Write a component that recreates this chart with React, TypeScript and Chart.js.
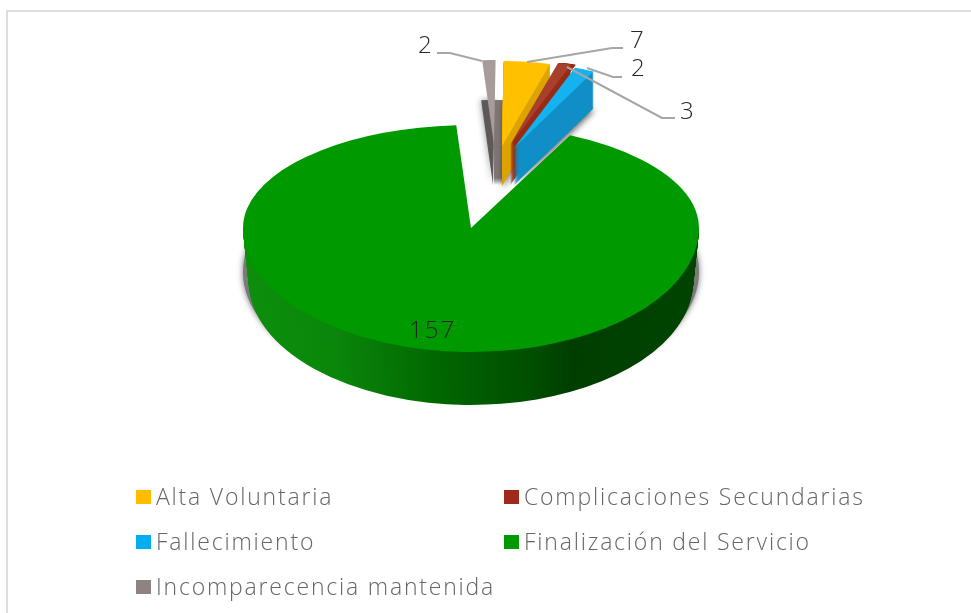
import React, { useEffect, useRef } from "react";
import { Chart, registerables } from "chart.js";

Chart.register(...registerables);

const categories = [
  "Alta Voluntaria",
  "Complicaciones Secundarias",
  "Fallecimiento",
  "Finalización del Servicio",
  "Incomparecencia mantenida",
];
const seriesValues = [7, 2, 3, 157, 2];
const faceColors = ["#FFC000", "#A8402E", "#14B2EE", "#009900", "#A89C9A"];
const wallColors = ["#DDA400", "#9A2A14", "#108FC6", "#006000", "#7F7676"];
const swatchColors = ["#FFBC00", "#A02A1A", "#00AEEF", "#009900", "#8F8280"];

const LEGEND_FONT = '300 23px "Open Sans", Inter, sans-serif';
const VALUE_FONT = '300 24px "Open Sans", Inter, sans-serif';
const BASE_RADIUS = 228;

// geometry of the tilted drawing
const mainPie = { x: 471, y: 228, backRy: 103, frontRy: 124, depth: 53 };
const smallPieces: Record<number, { x: number; y: number; depth: number; spread: number }> = {
  4: { x: 494, y: 145, depth: 40, spread: 0 },
  0: { x: 502, y: 146, depth: 40, spread: 0 },
  1: { x: 510, y: 145, depth: 40, spread: 5 },
  2: { x: 514, y: 148, depth: 37, spread: 0 },
};
const smallOrder = [4, 0, 1, 2];
const smallRx = 183;
const smallRy = 85;

const valueLabels = [
  { index: 0, x: 630, y: 48, line: [[623, 48], [612, 48], [527, 62]] },
  { index: 1, x: 631, y: 76, line: [[622, 77], [613, 77], [587, 68]] },
  { index: 2, x: 680, y: 119, line: [[675, 118], [662, 118], [567, 67]] },
  { index: 3, x: 409, y: 338, line: [] as number[][] },
  { index: 4, x: 418, y: 53, line: [[437, 53], [450, 53], [482, 61]] },
];

const legendColumns = [136, 504];
const legendRows = [490, 535, 580];

function drawArc(ctx: CanvasRenderingContext2D, el: any, color: any) {
  const saved = el.options;
  el.options = { ...saved, backgroundColor: color, borderWidth: 0 };
  el.draw(ctx);
  el.options = saved;
}

const pie3d = {
  id: "pie3d",
  beforeDatasetsDraw(chart: any) {
    const ctx: CanvasRenderingContext2D = chart.ctx;
    const arcs = chart.getDatasetMeta(0).data;
    const W = chart.width;
    const H = chart.height;

    const place = (el: any, x: number, y: number, sx: number, sy: number) => {
      ctx.translate(x, y);
      ctx.scale(sx, sy);
      ctx.translate(-el.x, -el.y);
    };

    // small exploded slices, behind the main one
    smallOrder.forEach((i) => {
      const el = arcs[i];
      const p = smallPieces[i];
      const sx = smallRx / BASE_RADIUS;
      const sy = smallRy / BASE_RADIUS;
      if (i === 4) {
        ctx.save();
        ctx.shadowColor = "rgba(0,0,0,0.45)";
        ctx.shadowBlur = 7;
        place(el, p.x - 1, p.y + p.depth, sx, sy);
        drawArc(ctx, el, "#5E5858");
        ctx.restore();
        ctx.save();
        ctx.beginPath();
        ctx.rect(494, 0, 40, H);
        ctx.clip();
        for (let dx = 0; dx <= 8; dx += 1) {
          ctx.save();
          place(el, p.x + dx, p.y + p.depth, sx, sy);
          drawArc(ctx, el, wallColors[i]);
          ctx.restore();
        }
        ctx.restore();
      } else {
        ctx.save();
        ctx.shadowColor = "rgba(0,0,0,0.6)";
        ctx.shadowBlur = 6;
        ctx.shadowOffsetX = 1;
        ctx.shadowOffsetY = 2;
        place(el, p.x, p.y + p.depth, sx, sy);
        drawArc(ctx, el, wallColors[i]);
        ctx.restore();
        for (let d = p.depth - 1; d >= 1; d -= 1) {
          ctx.save();
          place(el, p.x, p.y + d, sx, sy);
          drawArc(ctx, el, wallColors[i]);
          ctx.restore();
        }
        for (let dx = p.spread; dx >= 1; dx -= 1) {
          ctx.save();
          place(el, p.x + dx, p.y, sx, sy);
          drawArc(ctx, el, wallColors[i]);
          ctx.restore();
        }
      }
      ctx.save();
      place(el, p.x, p.y, sx, sy);
      drawArc(ctx, el, el.options.backgroundColor);
      ctx.restore();
    });

    // main slice: shadow, wall, then tilted face
    const main = arcs[3];
    const { x, y, backRy, frontRy, depth } = mainPie;
    const fy = frontRy / BASE_RADIUS;
    const by = backRy / BASE_RADIUS;

    ctx.save();
    ctx.shadowColor = "rgba(0,0,0,0.55)";
    ctx.shadowBlur = 6;
    place(main, x, y + 44, 1.0, fy);
    drawArc(ctx, main, "#7A7A7A");
    ctx.restore();

    const localLeft = main.x - BASE_RADIUS;
    const grad = ctx.createLinearGradient(localLeft, 0, localLeft + BASE_RADIUS * 2, 0);
    grad.addColorStop(0, "#0C8F0C");
    grad.addColorStop(0.2, "#0A860A");
    grad.addColorStop(0.45, "#006400");
    grad.addColorStop(0.65, "#004C00");
    grad.addColorStop(0.72, "#003E00");
    grad.addColorStop(1, "#004400");

    for (let d = depth; d >= 1; d -= 1) {
      ctx.save();
      ctx.beginPath();
      ctx.rect(0, y + d, W, H);
      ctx.clip();
      place(main, x, y + d, 1 - 0.025 * (d / depth), fy);
      drawArc(ctx, main, grad);
      ctx.restore();
    }

    ctx.save();
    ctx.beginPath();
    ctx.rect(0, 0, W, y + 0.5);
    ctx.clip();
    place(main, x, y, 1, by);
    drawArc(ctx, main, main.options.backgroundColor);
    ctx.restore();

    ctx.save();
    ctx.beginPath();
    ctx.rect(0, y, W, H);
    ctx.clip();
    place(main, x, y, 1, fy);
    drawArc(ctx, main, main.options.backgroundColor);
    ctx.restore();

    return false;
  },
  afterDraw(chart: any) {
    const ctx: CanvasRenderingContext2D = chart.ctx;
    const data = chart.data.datasets[0].data;
    const labels = chart.data.labels;

    // frame
    ctx.save();
    ctx.strokeStyle = "#DEDEDE";
    ctx.lineWidth = 2;
    ctx.beginPath();
    ctx.moveTo(7, chart.height);
    ctx.lineTo(7, 11);
    ctx.lineTo(chart.width, 11);
    ctx.stroke();
    ctx.restore();

    // leader lines and value labels
    ctx.save();
    ctx.font = VALUE_FONT;
    (ctx as any).letterSpacing = "2px";
    ctx.textAlign = "left";
    ctx.textBaseline = "alphabetic";
    valueLabels.forEach((v) => {
      if (v.line.length) {
        ctx.strokeStyle = "#A6A6A6";
        ctx.lineWidth = 2;
        ctx.beginPath();
        v.line.forEach((pt, k) => (k ? ctx.lineTo(pt[0], pt[1]) : ctx.moveTo(pt[0], pt[1])));
        ctx.stroke();
      }
      ctx.fillStyle = "#262626";
      ctx.fillText(String(data[v.index]), v.x, v.y);
    });
    ctx.restore();

    // legend
    ctx.save();
    ctx.font = LEGEND_FONT;
    (ctx as any).letterSpacing = "1.8px";
    ctx.textAlign = "left";
    ctx.textBaseline = "alphabetic";
    labels.forEach((label: string, i: number) => {
      const col = legendColumns[i % 2];
      const row = legendRows[Math.floor(i / 2)];
      ctx.fillStyle = swatchColors[i];
      ctx.fillRect(col, row, 15, 14);
      ctx.fillStyle = "#666666";
      ctx.fillText(label, col + 20, row + 15);
    });
    ctx.restore();
  },
};

export default function App() {
  const ref = useRef<HTMLCanvasElement | null>(null);
  useEffect(() => {
    const canvas = ref.current;
    if (!canvas) return;
    const chart = new Chart(canvas, {
      type: "pie",
      data: {
        labels: categories,
        datasets: [
          {
            data: seriesValues,
            backgroundColor: faceColors,
            borderWidth: 0,
            radius: BASE_RADIUS,
          },
        ],
      },
      options: {
        responsive: false,
        animation: false,
        rotation: 0.5,
        events: [],
        plugins: {
          legend: { display: false },
          tooltip: { enabled: false },
        },
      },
      plugins: [pie3d],
    } as any);
    return () => chart.destroy();
  }, []);
  return (
    <div style={{ position: "fixed", left: 0, top: 0, width: 971, height: 613, background: "#FFFFFF" }}>
      <canvas ref={ref} width={971} height={613} style={{ display: "block" }} />
    </div>
  );
}
